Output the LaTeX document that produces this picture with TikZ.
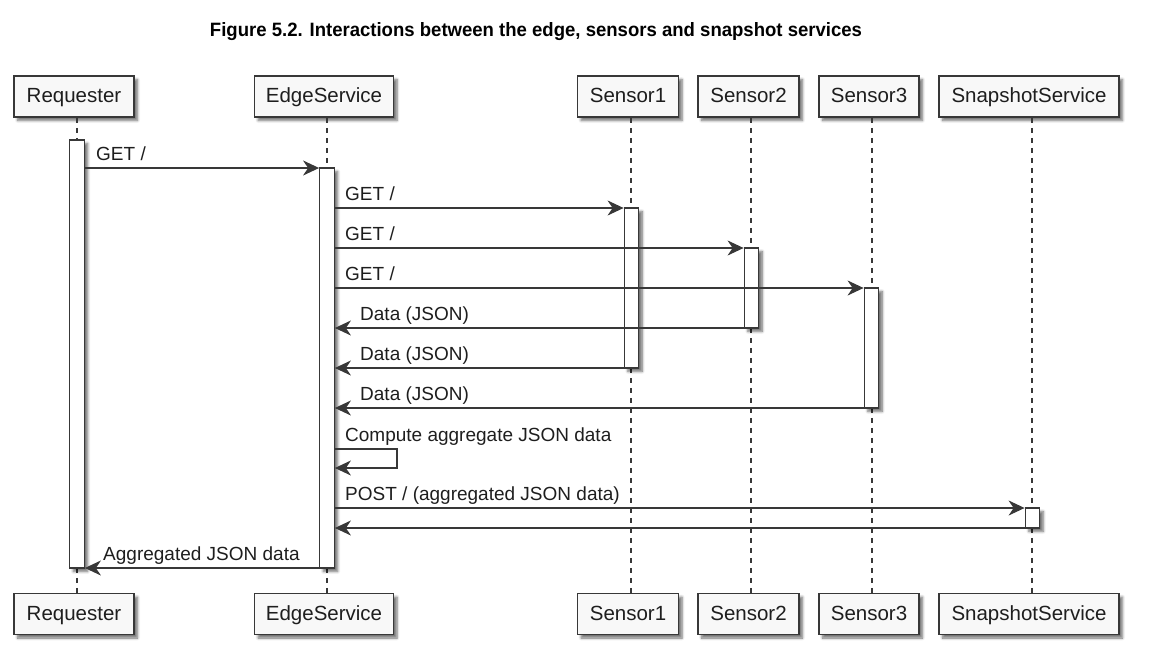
\documentclass[tikz,border=0pt]{standalone}
\usepackage{graphicx}
\usepackage{fontspec}
\setmainfont{Liberation Sans}
\newfontfamily\titlefont{Liberation Sans}
\usetikzlibrary{arrows.meta,shadows,shadows.blur}
\definecolor{ln}{HTML}{383838}
\definecolor{boxfill}{HTML}{F8F8F8}
\definecolor{txt}{HTML}{1E1E1E}
\begin{document}
\begin{tikzpicture}[x=1pt,y=-1pt,
  shd/.style={blur shadow={shadow xshift=3.5pt,shadow yshift=-3.5pt,shadow blur radius=2.5pt,shadow blur steps=6,shadow opacity=55}},
  part/.style={draw=ln,line width=1.8pt,fill=boxfill,minimum height=41pt,inner sep=0pt,
    text height=15pt,text depth=3pt,
    text=txt,font=\fontsize{20.5}{24}\selectfont,shd},
  actbar/.style={draw=ln,line width=1.3pt,fill=white,minimum width=14.5pt,inner sep=0pt,shd},
  lifeline/.style={draw=ln,line width=1.2pt,dash pattern=on 5pt off 5pt},
  msg/.style={draw=ln,line width=1.4pt,-{Stealth[length=16pt,width=15pt,inset=5pt]}},
  lbl/.style={anchor=base west,inner sep=0pt,text=txt,font=\fontsize{19}{22}\selectfont}
]
\useasboundingbox (0,0) rectangle (1154,672);

% title
\node[anchor=base,inner sep=0pt] (title) at (536,36)
  {\resizebox{652pt}{14pt}{\titlefont\bfseries Figure 5.2. Interactions between the edge, sensors and snapshot services}};

% lifeline x positions
\coordinate (Lreq) at (77,0);
\coordinate (Ledge) at (327,0);
\coordinate (Ls1) at (631,0);
\coordinate (Ls2) at (751,0);
\coordinate (Ls3) at (872,0);
\coordinate (Lsnap) at (1032,0);

% participants top
\node[part,minimum width=120pt] (reqT) at (74,96.5) {Requester};
\node[part,minimum width=139pt] (edgeT) at (324,96.5) {EdgeService};
\node[part,minimum width=101pt] (s1T) at (628,96.5) {Sensor1};
\node[part,minimum width=101pt] (s2T) at (748.5,96.5) {Sensor2};
\node[part,minimum width=100pt] (s3T) at (869,96.5) {Sensor3};
\node[part,minimum width=180pt] (snapT) at (1029,96.5) {SnapshotService};
% participants bottom
\node[part,minimum width=120pt] (reqB) at (74,614) {Requester};
\node[part,minimum width=139pt] (edgeB) at (324,614) {EdgeService};
\node[part,minimum width=101pt] (s1B) at (628,614) {Sensor1};
\node[part,minimum width=101pt] (s2B) at (748.5,614) {Sensor2};
\node[part,minimum width=100pt] (s3B) at (869,614) {Sensor3};
\node[part,minimum width=180pt] (snapB) at (1029,614) {SnapshotService};

% lifelines
\draw[lifeline] (reqT.south -| Lreq) -- (reqB.north -| Lreq);
\draw[lifeline] (edgeT.south -| Ledge) -- (edgeB.north -| Ledge);
\draw[lifeline] (s1T.south -| Ls1) -- (s1B.north -| Ls1);
\draw[lifeline] (s2T.south -| Ls2) -- (s2B.north -| Ls2);
\draw[lifeline] (s3T.south -| Ls3) -- (s3B.north -| Ls3);
\draw[lifeline] (snapT.south -| Lsnap) -- (snapB.north -| Lsnap);

% activation bars
\node[actbar,minimum height=428pt] (barReq) at (77,354) {};
\node[actbar,minimum height=400pt] (barEdge) at (327,368) {};
\node[actbar,minimum height=160pt] (barS1) at (631.5,288) {};
\node[actbar,minimum height=80pt] (barS2) at (751.5,288) {};
\node[actbar,minimum height=120pt] (barS3) at (871.5,348) {};
\node[actbar,minimum height=20pt] (barSnap) at (1032.5,518) {};

% message rows
\coordinate (m1) at (0,168);
\coordinate (m2) at (0,208);
\coordinate (m3) at (0,248);
\coordinate (m4) at (0,288);
\coordinate (m5) at (0,328);
\coordinate (m6) at (0,368);
\coordinate (m7) at (0,408);
\coordinate (m8a) at (0,449);
\coordinate (m8b) at (0,468);
\coordinate (selfR) at (397,449);
\coordinate (m9) at (0,508);
\coordinate (m10) at (0,528);
\coordinate (m11) at (0,568);

\draw[msg] (barReq.east |- m1) -- (barEdge.west |- m1);
\draw[msg] (barEdge.east |- m2) -- (barS1.west |- m2);
\draw[msg] (barEdge.east |- m3) -- (barS2.west |- m3);
\draw[msg] (barEdge.east |- m4) -- (barS3.west |- m4);
\draw[msg] (barS2.west |- m5) -- (barEdge.east |- m5);
\draw[msg] (barS1.west |- m6) -- (barEdge.east |- m6);
\draw[msg] (barS3.west |- m7) -- (barEdge.east |- m7);
\draw[msg] (barEdge.east |- m8a) -- (selfR) |- (barEdge.east |- m8b);
\draw[msg] (barEdge.east |- m9) -- (barSnap.west |- m9);
\draw[msg] (barSnap.west |- m10) -- (barEdge.east |- m10);
\draw[msg] (barEdge.west |- m11) -- (barReq.east |- m11);

% labels
\node[lbl] (l1) at (96,160) {GET /};
\node[lbl] (l2) at (345,200) {GET /};
\node[lbl] (l3) at (345,240) {GET /};
\node[lbl] (l4) at (345,280) {GET /};
\node[lbl] (l5) at (360,320) {Data (JSON)};
\node[lbl] (l6) at (360,360) {Data (JSON)};
\node[lbl] (l7) at (360,400) {Data (JSON)};
\node[lbl] (l8) at (345,441) {Compute aggregate JSON data};
\node[lbl] (l9) at (345,500) {POST / (aggregated JSON data)};
\node[lbl] (l11) at (103,560) {Aggregated JSON data};
\end{tikzpicture}
\end{document}
